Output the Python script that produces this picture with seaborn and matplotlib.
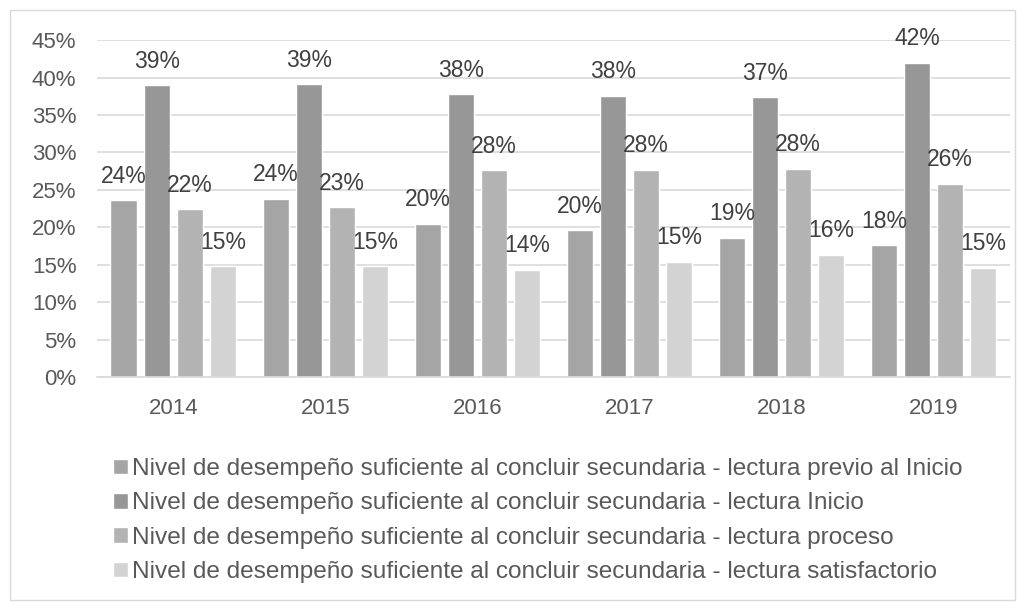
import pandas as pd
import matplotlib.pyplot as plt
import seaborn as sns
from matplotlib.patches import Rectangle

# Data (fractions)
years = ["2014", "2015", "2016", "2017", "2018", "2019"]
previo_inicio = [0.236, 0.238, 0.205, 0.196, 0.186, 0.176]
inicio = [0.390, 0.391, 0.378, 0.376, 0.374, 0.420]
proceso = [0.224, 0.227, 0.276, 0.277, 0.278, 0.258]
satisfactorio = [0.148, 0.148, 0.143, 0.154, 0.163, 0.146]

series_names = [
    "Nivel de desempeño suficiente al concluir secundaria - lectura previo al Inicio",
    "Nivel de desempeño suficiente al concluir secundaria - lectura Inicio",
    "Nivel de desempeño suficiente al concluir secundaria - lectura proceso",
    "Nivel de desempeño suficiente al concluir secundaria - lectura satisfactorio",
]
colors = ["#A5A5A5", "#979797", "#B3B3B3", "#D3D3D3"]

rows = []
for name, vals in zip(series_names, [previo_inicio, inicio, proceso, satisfactorio]):
    for y, v in zip(years, vals):
        rows.append({"year": y, "serie": name, "value": v})
df = pd.DataFrame(rows)

sns.set_theme(style="white")
plt.rcParams["font.family"] = ["Liberation Sans", "DejaVu Sans"]

fig = plt.figure(figsize=(10.24, 6.09), dpi=100)
ax = fig.add_axes([0.095, 0.381, 0.891, 0.553])

sns.barplot(data=df, x="year", y="value", hue="serie", palette=colors,
            width=0.87, gap=0.2, ax=ax, legend=True, saturation=1)

for cont in ax.containers:
    labels = [f"{round(b.get_height() * 100):.0f}%" for b in cont]
    ax.bar_label(cont, labels=labels, padding=9, fontsize=16.5, color="#404040")

ax.set_ylim(0, 0.45)
ax.set_yticks([i * 0.05 for i in range(10)])
ax.set_yticklabels([f"{i * 5}%" for i in range(10)])
ax.yaxis.grid(True, color="#D9D9D9", linewidth=1.2)
ax.set_axisbelow(True)
ax.set_xlabel("")
ax.set_ylabel("")
for side in ["top", "right", "left"]:
    ax.spines[side].set_visible(False)
ax.spines["bottom"].set_color("#D9D9D9")
ax.spines["bottom"].set_linewidth(1.2)
ax.tick_params(axis="both", labelsize=16, colors="#595959", length=0)
ax.tick_params(axis="y", pad=15)
ax.tick_params(axis="x", pad=15)

leg = ax.legend(loc="upper left", bbox_to_anchor=(-0.007, -0.176), frameon=False,
                fontsize=17.6, labelcolor="#595959", handlelength=0.6,
                handleheight=0.6, handletextpad=0.2, labelspacing=0.5)

fig.patches.append(Rectangle((0.01, 0.015), 0.981, 0.968, transform=fig.transFigure,
                             fill=False, edgecolor="#D9D9D9", linewidth=1))

fig.savefig("out.png", dpi=100)
